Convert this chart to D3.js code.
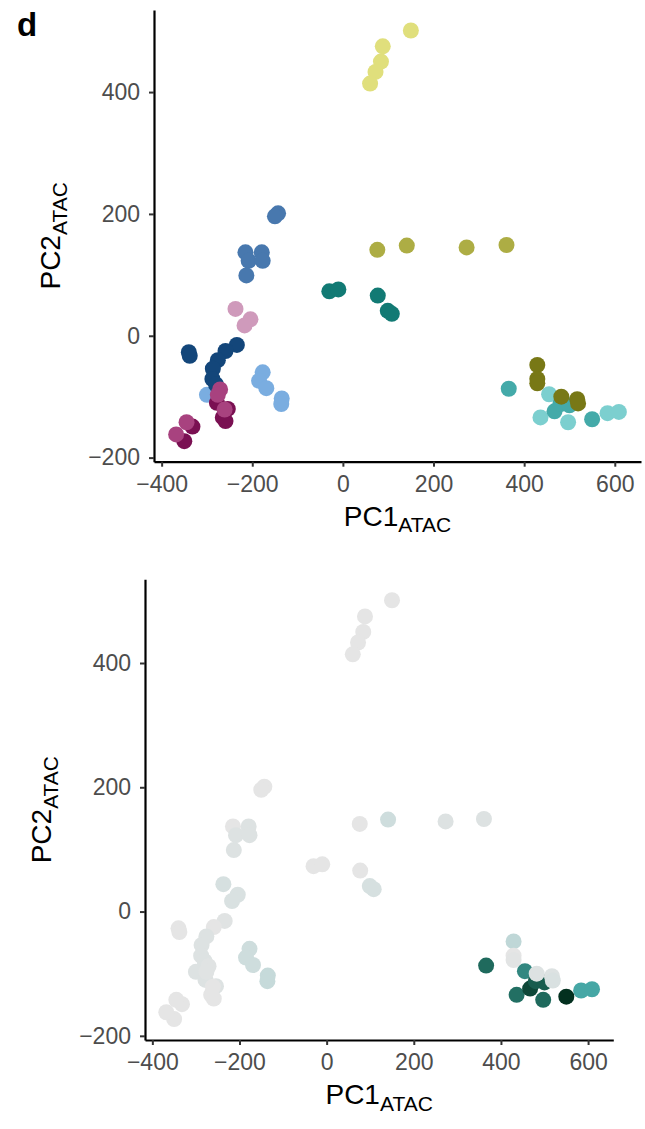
<!DOCTYPE html>
<html>
<head>
<meta charset="utf-8">
<script src="https://cdn.jsdelivr.net/npm/d3@7"></script>
<style>
  body { margin: 0; background: #fff; }
  svg { display: block; font-family: "Liberation Sans", Arial, Helvetica, sans-serif; }
</style>
</head>
<body>
<div class="chart"></div>
<script>
// sample groups (top panel colours)
const clusters = ['Y', 'B', 'T', 'OL', 'P', 'LB', 'N', 'M', 'MG', 'C', 'TM', 'O'];
const clusterColors = ['#e0df7c', '#4878ae', '#127a74', '#adad44', '#cf9abb', '#7aade0',
  '#13467a', '#7a1052', '#a8427f', '#7ccfcf', '#44aaa9', '#787816'];

// one entry per sample, in drawing order
const pc1 = [
  150, 88, 84, 72, 60,
  -143, -150, -215, -208, -179, -177, -213,
  -30, -10, 77, 99, 108,
  76, 141, 273, 361,
  -237, -204, -217,
  -300, -177, -185, -169, -135, -136,
  -340, -338, -234, -259, -276, -287, -288, -280,
  -278, -254, -265, -259, -332, -350,
  -271, -276, -261, -345, -368,
  455, 436, 497, 584, 609,
  366, 467, 480, 500, 550,
  429, 429, 429, 482, 517, 519
];
const pc2 = [
  501, 475, 450, 433, 414,
  201, 196, 137, 123, 137, 123, 99,
  73, 76, 66, 41, 36,
  141, 148, 145, 149,
  44, 27, 17,
  -97, -60, -74, -86, -103, -112,
  -27, -33, -15, -25, -40, -54, -71, -80,
  -110, -120, -134, -140, -149, -173,
  -88, -97, -121, -142, -162,
  -96, -134, -142, -127, -125,
  -87, -124, -112, -114, -137,
  -48, -71, -78, -100, -104, -111
];
const cluster = [
  'Y', 'Y', 'Y', 'Y', 'Y',
  'B', 'B', 'B', 'B', 'B', 'B', 'B',
  'T', 'T', 'T', 'T', 'T',
  'OL', 'OL', 'OL', 'OL',
  'P', 'P', 'P',
  'LB', 'LB', 'LB', 'LB', 'LB', 'LB',
  'N', 'N', 'N', 'N', 'N', 'N', 'N', 'N',
  'M', 'M', 'M', 'M', 'M', 'M',
  'MG', 'MG', 'MG', 'MG', 'MG',
  'C', 'C', 'C', 'C', 'C',
  'TM', 'TM', 'TM', 'TM', 'TM',
  'O', 'O', 'O', 'O', 'O', 'O'
];
// bottom panel: per-sample score shown as grey -> green
const score = [
  0, 0, 0, 0, 0,
  0, 0, 0, 0.05, 0.05, 0.05, 0.05,
  0, 0, 0, 0.1, 0.1,
  0, 0.15, 0.05, 0.05,
  0.1, 0.08, 0.08,
  0.05, 0.15, 0.15, 0.15, 0.2, 0.2,
  0, 0, 0.03, 0, 0.05, 0.05, 0.05, 0.05,
  0.05, 0.05, 0, 0, 0, 0,
  0.03, 0.03, 0, 0, 0,
  0.68, 0.78, 0.8, 0.55, 0.55,
  0.8, 0.92, 0.85, 0.85, 1,
  0.22, 0, 0.02, 0.05, 0.05, 0.08
];

const xTicks = [-400, -200, 0, 200, 400, 600];
const yTicks = [-200, 0, 200, 400];

const width = 645, height = 1129;
const svg = d3.select('.chart').append('svg')
  .attr('width', width)
  .attr('height', height);

const clusterColor = d3.scaleOrdinal().domain(clusters).range(clusterColors);
const scoreColor = d3.scaleLinear()
  .domain([0, 0.2, 0.55, 0.8, 1])
  .range(['#e5e5e5', '#c6dada', '#46a7a5', '#1f6a5d', '#03301f']);

// ggplot-style 5% expansion
const expand = ext => {
  const pad = (ext[1] - ext[0]) * 0.05;
  return [ext[0] - pad, ext[1] + pad];
};
const xDomain = expand(d3.extent(pc1));
const yDomain = expand(d3.extent(pc2));

const points = pc1.map((v, i) => ({ x: v, y: pc2[i], cluster: cluster[i], score: score[i] }));

const drawPanel = (box, fill) => {
  const x = d3.scaleLinear().domain(xDomain).range([box.left, box.right]);
  const y = d3.scaleLinear().domain(yDomain).range([box.bottom, box.top]);
  const g = svg.append('g');

  g.append('g')
    .selectAll('circle')
    .data(points)
    .enter()
    .append('circle')
    .attr('cx', d => x(d.x))
    .attr('cy', d => y(d.y))
    .attr('r', 8)
    .attr('fill', fill);

  const xAxis = g.append('g')
    .attr('transform', `translate(0, ${box.bottom})`)
    .call(d3.axisBottom(x).tickValues(xTicks).tickSize(5).tickSizeOuter(0).tickPadding(8.7));

  const yAxis = g.append('g')
    .attr('transform', `translate(${box.left}, 0)`)
    .call(d3.axisLeft(y).tickValues(yTicks).tickSize(5).tickSizeOuter(0).tickPadding(9));

  [xAxis, yAxis].forEach(a => {
    a.select('.domain').attr('stroke', '#000').attr('stroke-width', 2.2);
    a.selectAll('.tick line').attr('stroke', '#333').attr('stroke-width', 2);
    a.selectAll('.tick text')
      .attr('fill', '#4d4d4d')
      .attr('font-size', 23)
      .attr('font-family', '"Liberation Sans", Arial, sans-serif');
  });

  // axis titles with subscript
  const xTitle = g.append('text')
    .attr('x', (box.left + box.right) / 2)
    .attr('y', box.bottom + 64)
    .attr('text-anchor', 'middle')
    .attr('fill', '#000');
  xTitle.append('tspan').attr('font-size', 28).text('PC1');
  xTitle.append('tspan').attr('font-size', 21).attr('dy', 6.6).text('ATAC');

  const yTitle = g.append('text')
    .attr('transform', `translate(${box.left - 94}, ${(box.top + box.bottom) / 2}) rotate(-90)`)
    .attr('text-anchor', 'middle')
    .attr('fill', '#000');
  yTitle.append('tspan').attr('font-size', 28).text('PC2');
  yTitle.append('tspan').attr('font-size', 21).attr('dy', 6.6).text('ATAC');
};

drawPanel({ left: 154, right: 641, top: 10, bottom: 461.7 }, d => clusterColor(d.cluster));
drawPanel({ left: 145, right: 613.3, top: 579.3, bottom: 1040 }, d => scoreColor(d.score));

svg.append('text')
  .attr('x', 17)
  .attr('y', 36)
  .attr('font-size', 33)
  .attr('font-weight', 'bold')
  .text('d');
</script>
</body>
</html>
